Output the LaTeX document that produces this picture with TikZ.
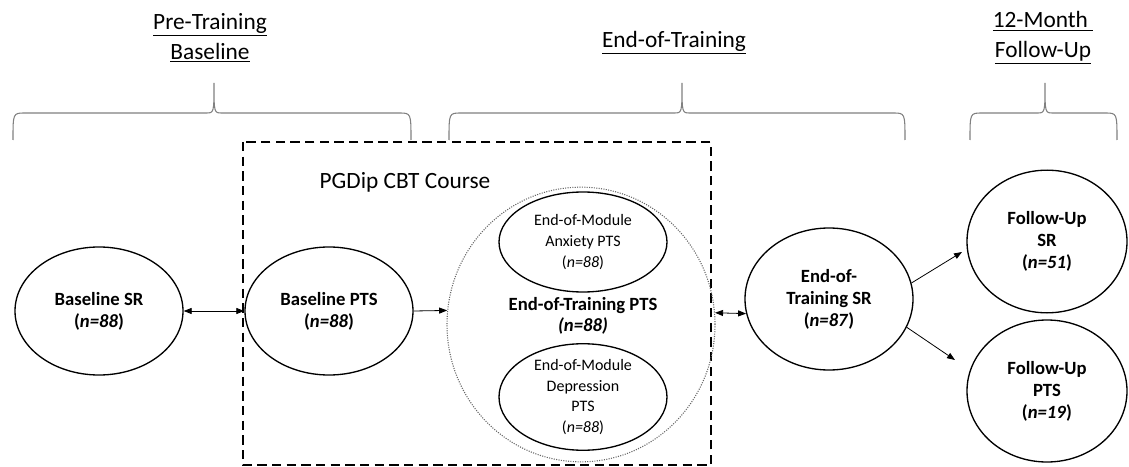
\documentclass[tikz,border=0pt]{standalone}
\usepackage{fontspec}
\setmainfont{Carlito}
\usetikzlibrary{shapes.geometric,arrows.meta}

\begin{document}
\begin{tikzpicture}[x=0.75pt,y=-0.75pt,>={Triangle[length=6pt,width=4.5pt]},
	phase/.style={align=center,font=\fontsize{17.5}{22.5}\selectfont},
	bracket/.style={draw=gray,line width=0.8pt},
	measure/.style={ellipse,draw,line width=1pt,inner sep=0pt,align=center,font=\fontsize{14}{16.5}\selectfont\bfseries},
	module/.style={ellipse,draw,line width=1pt,inner sep=0pt,align=center,minimum width=126pt,minimum height=75pt,font=\fontsize{12}{15.5}\selectfont},
	link/.style={line width=0.6pt}]
				\useasboundingbox (0,0) rectangle (1129,467);
				% time points
				\node[phase] (pre) at (210,38) {\underline{Pre-Training}\\\underline{Baseline}};
				\node[phase] (end) at (674,43) {\underline{End-of-Training}};
				\node[phase] (follow) at (1043,38) {\underline{12-Month }\\\underline{Follow-Up}};
				\draw[bracket] (13,140) .. controls (13,113) .. (25,113) -- (206,113) .. controls (214,113) .. (214,83) .. controls (214,113) .. (222,113) -- (399,113) .. controls (411,113) .. (411,140);
				\draw[bracket] (449,140) .. controls (449,113) .. (461,113) -- (674,113) .. controls (682,113) .. (682,83) .. controls (682,113) .. (690,113) -- (893,113) .. controls (905,113) .. (905,140);
				\draw[bracket] (970,140) .. controls (970,113) .. (982,113) -- (1037,113) .. controls (1045,113) .. (1045,83) .. controls (1045,113) .. (1053,113) -- (1105,113) .. controls (1117,113) .. (1117,140);
				% course
				\draw[line width=1pt,dash pattern=on 7pt off 4pt] (243,142) rectangle (711,465);
				\node[phase] (course) at (405,182) {PGDip CBT Course};
				% measures
				\node[measure,minimum width=126pt,minimum height=96pt] (bsr) at (99,311) {Baseline SR\\(\textit{n=88})};
				\node[measure,minimum width=126pt,minimum height=96pt] (bpts) at (329,311) {Baseline PTS\\(\textit{n=88})};
				\node[ellipse,draw=black!60,densely dotted,line width=0.8pt,inner sep=0pt,minimum width=201pt,minimum height=206pt] (etpts) at (581,324.5) {};
				\node[align=center,font=\fontsize{14}{16}\selectfont\bfseries] (etptslabel) at (583,316) {End-of-Training PTS\\\textit{(n=88)}};
				\node[module] (anx) at (583,242) {End-of-Module\\Anxiety PTS\\(\textit{n=88})};
				\node[module] (dep) at (583,397) {End-of-Module\\Depression\\PTS\\(\textit{n=88})};
				\node[measure,minimum width=126pt,minimum height=106.5pt] (etsr) at (829,299) {End-of-\\Training SR\\(\textit{n=87})};
				\node[measure,minimum width=120pt,minimum height=107pt] (fusr) at (1047,241.5) {Follow-Up\\SR\\(\textit{n=51})};
				\node[measure,minimum width=120pt,minimum height=106.5pt] (fupts) at (1047,391) {Follow-Up\\PTS\\(\textit{n=19})};
				\coordinate (fusrin) at (962,252);
				\coordinate (fuptsin) at (955,360);
				% links
				\draw[link,<->] (bsr) -- (bpts);
				\draw[link,->] (bpts.east) -- (etpts.174);
				\draw[link,<->] (etpts.5) -- (etsr.190);
				\draw[link,->] (etsr.11) -- (fusrin);
				\draw[link,->] (etsr.-20) -- (fuptsin);
			\end{tikzpicture}
\end{document}
